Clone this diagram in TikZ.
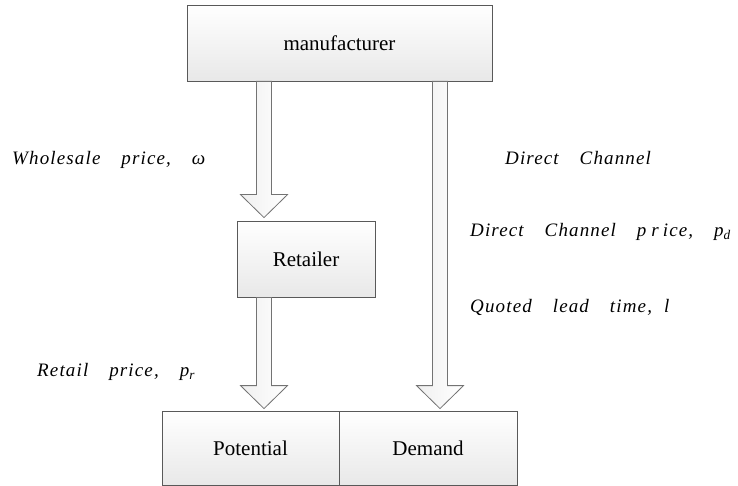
\documentclass[tikz,border=0pt]{standalone}
\usepackage{fontspec}
\setmainfont{Liberation Serif}
\newfontfamily\lblfont[LetterSpace=6]{Liberation Serif}
\usetikzlibrary{calc,shadows}
\newcommand{\wgap}{\hspace{21pt}}
\newcommand{\blockarrow}[2]{%
  \path[barrow] let \p1=(#1), \p2=(#2) in
    (\x1-7.5pt,\y1) -- (\x1-7.5pt,\y2+23pt) -- (\x1-23.5pt,\y2+23pt) -- (\x2,\y2)
    -- (\x1+23.5pt,\y2+23pt) -- (\x1+7.5pt,\y2+23pt) -- (\x1+7.5pt,\y1) -- cycle;}
\tikzset{
  box/.style={draw=black!65, line width=0.8pt, top color=white, bottom color=black!9,
    drop shadow={shadow xshift=1.2pt, shadow yshift=-1.2pt, opacity=0.25},
    minimum height=76pt, inner sep=0pt, font=\fontsize{21}{24}\selectfont},
  barrow/.style={draw=black!55, line width=0.8pt, left color=black!6, right color=white},
  lbl/.style={anchor=west, inner sep=0pt, font=\lblfont\itshape\fontsize{19}{22}\selectfont}
}
\begin{document}
\begin{tikzpicture}[x=1pt,y=-1pt]
\useasboundingbox (0,0) rectangle (738,486);
\fill[white] (0,0) rectangle (738,486);
\coordinate (lx) at (264,0);
\coordinate (rx) at (440,0);
% nodes
\node[box, minimum width=305pt] (m) at (339.5,43) {manufacturer};
\node[box, minimum width=138pt] (r) at (306,259) {Retailer};
\node[box, minimum width=177pt, minimum height=74pt] (pot) at (250.5,448) {Potential};
\node[box, minimum width=178pt, minimum height=74pt] (dem) at (428,448) {Demand};
% arrows
\coordinate (a1s) at (m.south -| lx);
\coordinate (a1e) at ($(r.north -| lx)+(0,-3)$);
\coordinate (a2s) at (r.south -| lx);
\coordinate (a2e) at ($(pot.north -| lx)+(0,-2)$);
\coordinate (a3s) at (m.south -| rx);
\coordinate (a3e) at ($(dem.north -| rx)+(0,-2)$);
\blockarrow{a1s}{a1e}
\blockarrow{a2s}{a2e}
\blockarrow{a3s}{a3e}
% labels
\node[lbl] (wp) at (12,160) {Wholesale\wgap price,\wgap ω};
\node[lbl] (dc) at (505,158) {Direct\wgap Channel};
\node[lbl] (dcp) at (470,232) {Direct\wgap Channel\wgap p\hspace{5pt}r\hspace{4pt}ice,\wgap p\textsubscript{d}};
\node[lbl] (ql) at (470,307) {Quoted\wgap lead\wgap time,\hspace{12pt}l};
\node[lbl] (rp) at (37,372) {Retail\wgap price,\wgap p\textsubscript{r}};
\end{tikzpicture}
\end{document}
